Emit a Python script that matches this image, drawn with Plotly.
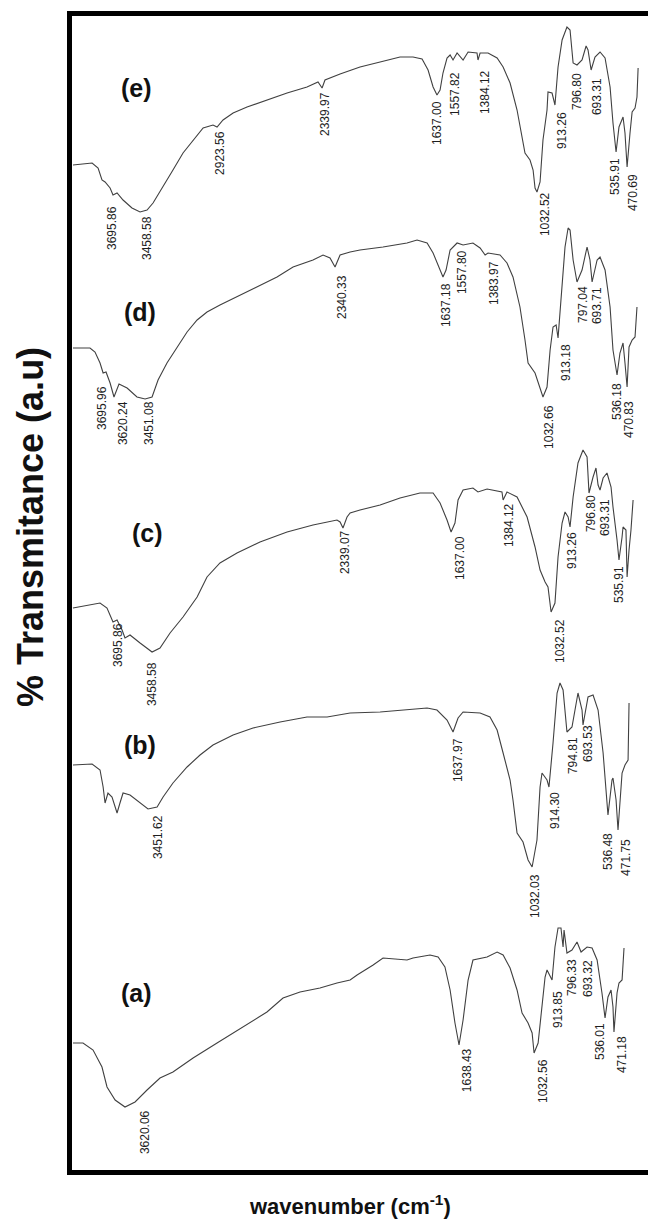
import plotly.graph_objects as go

# ---------------- data (wavenumber in cm-1, transmittance in a.u.) ----------------
wn_e = [3882, 3764, 3727, 3703, 3684, 3653, 3635, 3610, 3573, 3518, 3468, 3425, 3388, 3326, 3265, 3203,
        3141, 3079, 3018, 2993, 2956, 2894, 2808, 2685, 2561, 2438, 2370, 2345, 2327, 2234, 2111, 1987,
        1864, 1784, 1728, 1691, 1660, 1636, 1617, 1599, 1574, 1555, 1537, 1512, 1494, 1475, 1444, 1389,
        1383, 1370, 1321, 1265, 1228, 1185, 1142, 1111, 1093, 1062, 1043, 1031, 1019, 1000, 982, 957,
        951, 926, 908, 889, 864, 834, 815, 796, 772, 741, 716, 704, 685, 661, 630, 599, 568, 550, 531,
        513, 488, 476, 463, 445, 432, 414, 402, 395]
t_e = [1008, 1010, 1005, 993, 991, 985, 978, 980, 973, 965, 961, 963, 970, 986, 1003, 1020,
       1033, 1045, 1048, 1046, 1053, 1060, 1066, 1073, 1080, 1086, 1091, 1085, 1093, 1099, 1106, 1111,
       1116, 1116, 1114, 1103, 1086, 1078, 1083, 1100, 1115, 1118, 1113, 1120, 1116, 1113, 1121, 1120,
       1113, 1120, 1120, 1115, 1106, 1090, 1063, 1033, 1020, 1013, 1003, 985, 981, 991, 1033, 1063,
       1081, 1080, 1068, 1106, 1133, 1146, 1143, 1110, 1108, 1113, 1127, 1123, 1103, 1116, 1121, 1115,
       1086, 1050, 1021, 1046, 1056, 1040, 1006, 1040, 1061, 1065, 1076, 1105]

wn_d = [3882, 3777, 3746, 3715, 3696, 3678, 3653, 3629, 3598, 3548, 3487, 3437, 3394, 3357, 3302, 3240,
        3178, 3116, 3055, 2975, 2851, 2728, 2623, 2524, 2401, 2339, 2296, 2265, 2234, 2172, 2111, 1969,
        1821, 1759, 1697, 1660, 1617, 1599, 1580, 1555, 1512, 1475, 1414, 1370, 1339, 1321, 1247, 1204,
        1167, 1124, 1093, 1074, 1031, 1000, 982, 957, 938, 920, 901, 889, 864, 846, 827, 815, 796, 772,
        741, 710, 692, 679, 648, 630, 599, 568, 550, 525, 507, 488, 476, 463, 451, 432, 414, 402]
t_d = [825, 825, 821, 810, 800, 801, 790, 776, 789, 785, 776, 774, 776, 793, 810, 826,
       841, 853, 861, 868, 878, 888, 896, 906, 913, 918, 915, 906, 918, 921, 923, 926,
       930, 933, 930, 920, 903, 896, 903, 923, 930, 928, 930, 925, 918, 920, 918, 910,
       896, 866, 833, 810, 800, 786, 776, 786, 823, 846, 848, 835, 883, 926, 945, 943, 913, 891,
       903, 926, 913, 891, 913, 916, 903, 866, 823, 798, 820, 830, 810, 786, 826, 833, 836, 866]

wn_c = [3882, 3715, 3672, 3635, 3610, 3579, 3561, 3530, 3468, 3394, 3345, 3283, 3203, 3116, 3055, 2975,
        2870, 2728, 2561, 2401, 2253, 2234, 2216, 2191, 2172, 2111, 1987, 1864, 1741, 1660, 1617, 1574,
        1549, 1525, 1506, 1475, 1414, 1383, 1327, 1235, 1228, 1204, 1142, 1080, 1031, 1000, 969, 951,
        932, 908, 889, 864, 846, 827, 815, 796, 766, 735, 710, 698, 673, 655, 642, 630, 611, 587, 562,
        550, 525, 513, 494, 488, 470, 463, 451, 439, 426]
t_c = [565, 570, 565, 551, 553, 543, 535, 538, 530, 521, 525, 540, 556, 576, 596, 610,
       620, 631, 641, 648, 653, 651, 645, 656, 660, 663, 668, 675, 680, 680, 670, 653,
       641, 650, 673, 683, 685, 681, 684, 681, 673, 681, 676, 656, 626, 603, 591, 586,
       561, 570, 616, 650, 661, 656, 646, 676, 710, 723, 716, 680, 696, 705, 688, 683, 695, 700, 686,
       666, 633, 613, 636, 646, 643, 596, 623, 643, 673]

wn_b = [3882, 3764, 3715, 3696, 3684, 3666, 3641, 3610, 3592, 3573, 3530, 3468, 3419, 3363, 3326, 3265,
        3178, 3098, 3018, 2894, 2771, 2604, 2438, 2314, 2172, 1987, 1821, 1697, 1636, 1574, 1537, 1506,
        1475, 1370, 1309, 1265, 1228, 1185, 1167, 1142, 1105, 1074, 1049, 1019, 1000, 988, 957, 945,
        920, 895, 877, 858, 834, 803, 766, 741, 735, 704, 673, 642, 611, 587, 581, 556, 550, 531, 519,
        494, 476, 457, 451]
t_b = [408, 409, 403, 386, 370, 380, 376, 360, 370, 380, 378, 370, 364, 366, 376, 390,
       406, 418, 428, 438, 445, 451, 456, 456, 460, 461, 463, 465, 463, 453, 441, 455,
       461, 460, 456, 443, 420, 393, 373, 340, 331, 313, 306, 333, 386, 400, 393, 386,
       430, 480, 490, 483, 441, 446, 480, 463, 448, 476, 478, 463, 420, 373, 358, 393, 395, 373, 343,
       400, 408, 413, 470]

wn_a = [3882, 3820, 3758, 3703, 3672, 3622, 3561, 3499, 3425, 3345, 3265, 3141, 2993, 2833, 2685, 2586,
        2481, 2358, 2253, 2172, 2129, 2030, 1969, 1821, 1784, 1679, 1629, 1587, 1555, 1525, 1500, 1475,
        1444, 1414, 1327, 1265, 1228, 1185, 1142, 1111, 1074, 1049, 1037, 1012, 988, 969, 957, 938,
        926, 908, 889, 871, 858, 852, 834, 803, 772, 747, 710, 679, 648, 618, 599, 581, 562, 550, 544,
        525, 513, 494, 482]
t_a = [130, 130, 123, 106, 86, 73, 66, 71, 83, 95, 101, 115, 130, 146, 161, 175,
       181, 185, 190, 193, 198, 208, 215, 213, 215, 218, 216, 206, 183, 150, 128, 153,
       193, 213, 216, 221, 218, 205, 183, 160, 150, 140, 120, 130, 166, 196, 203, 196,
       193, 226, 245, 245, 226, 243, 220, 223, 231, 221, 226, 225, 213, 180, 155, 176, 183, 166, 141,
       180, 190, 193, 225]

# peak labels
lab_e = ["3695.86", "3458.58", "2923.56", "2339.97", "1637.00", "1557.82", "1384.12", "1032.52",
         "913.26", "796.80", "693.31", "535.91", "470.69"]
lab_e_wn = [3641, 3425, 2975, 2327, 1636, 1525, 1339, 969, 864, 772, 648, 537, 426]
lab_e_t = [945, 935, 1020, 1059, 1050, 1079, 1081, 959, 1042, 1081, 1076, 996, 980]

lab_d = ["3695.96", "3620.24", "3451.08", "2340.33", "1637.18", "1557.80", "1383.97", "1032.66",
         "913.18", "797.04", "693.71", "536.18", "470.83"]
lab_d_wn = [3703, 3573, 3413, 2222, 1580, 1481, 1284, 945, 840, 735, 648, 525, 451]
lab_d_t = [765, 750, 750, 876, 868, 901, 890, 746, 811, 868, 867, 771, 753]

lab_c = ["3695.86", "3458.58", "2339.07", "1637.00", "1384.12", "1032.52", "913.26", "796.80",
         "693.31", "535.91"]
lab_c_wn = [3604, 3394, 2203, 1494, 1191, 877, 803, 685, 599, 513]
lab_c_t = [528, 489, 621, 615, 648, 532, 623, 659, 655, 589]

lab_b = ["3451.62", "1637.97", "1032.03", "914.30", "794.81", "693.53", "536.48", "471.75"]
lab_b_wn = [3357, 1506, 1031, 908, 796, 704, 581, 470]
lab_b_t = [336, 413, 277, 363, 417, 429, 322, 316]

lab_a = ["3620.06", "1638.43", "1032.56", "913.85", "796.33", "693.32", "536.01", "471.18"]
lab_a_wn = [3437, 1450, 982, 889, 803, 704, 630, 494]
lab_a_t = [41, 103, 92, 163, 196, 194, 131, 118]

sample_names = ["(e)", "(d)", "(c)", "(b)", "(a)"]
sample_wn = [3487, 3468, 3425, 3468, 3487]
sample_t = [1085, 861, 640, 428, 180]

# ---------------- figure ----------------
fig = go.Figure()
line_style = dict(color="#404040", width=1.1)
for wn, t in [(wn_e, t_e), (wn_d, t_d), (wn_c, t_c), (wn_b, t_b), (wn_a, t_a)]:
    fig.add_trace(go.Scatter(x=wn, y=t, mode="lines", line=line_style,
                             showlegend=False, hoverinfo="skip"))

annotations = []
for labs, lwn, lt in [(lab_e, lab_e_wn, lab_e_t), (lab_d, lab_d_wn, lab_d_t),
                      (lab_c, lab_c_wn, lab_c_t), (lab_b, lab_b_wn, lab_b_t),
                      (lab_a, lab_a_wn, lab_a_t)]:
    for s, x, y in zip(labs, lwn, lt):
        annotations.append(dict(x=x, y=y, xref="x", yref="y", text=s, showarrow=False,
                                textangle=-90, xanchor="center", yanchor="middle",
                                font=dict(family="Liberation Sans, Arial", size=12, color="#1e1e1e")))
for s, x, y in zip(sample_names, sample_wn, sample_t):
    annotations.append(dict(x=x, y=y, xref="x", yref="y", text="<b>" + s + "</b>", showarrow=False,
                            xanchor="center", yanchor="middle",
                            font=dict(family="Liberation Sans, Arial", size=25, color="#111")))

# axis titles
annotations.append(dict(x=(30 - 72) / 576, y=(1170 - 527) / 1154, xref="paper", yref="paper",
                        text="<b>% Transmitance (a.u)</b>", showarrow=False, textangle=-90,
                        xanchor="center", yanchor="middle",
                        font=dict(family="Liberation Sans, Arial", size=36, color="#111")))
annotations.append(dict(x=(350 - 72) / 576, y=(1170 - 1205) / 1154, xref="paper", yref="paper",
                        text="<b>wavenumber (cm<sup>-1</sup>)</b>", showarrow=False,
                        xanchor="center", yanchor="middle",
                        font=dict(family="Liberation Sans, Arial", size=22, color="#111")))

fig.update_layout(
    width=648, height=1224,
    margin=dict(l=72, r=0, t=16, b=54),
    paper_bgcolor="white", plot_bgcolor="white",
    annotations=annotations,
    xaxis=dict(range=[3888, 334], showgrid=False, zeroline=False, showticklabels=False, ticks="",
               showline=True, linecolor="black", linewidth=5, mirror=True),
    yaxis=dict(range=[3, 1157], showgrid=False, zeroline=False, showticklabels=False, ticks="",
               showline=True, linecolor="black", linewidth=5, mirror=False),
)

fig.write_html("out.html", config={"displayModeBar": False},
               post_script="document.body.style.margin='0';document.body.style.overflow='hidden';")
